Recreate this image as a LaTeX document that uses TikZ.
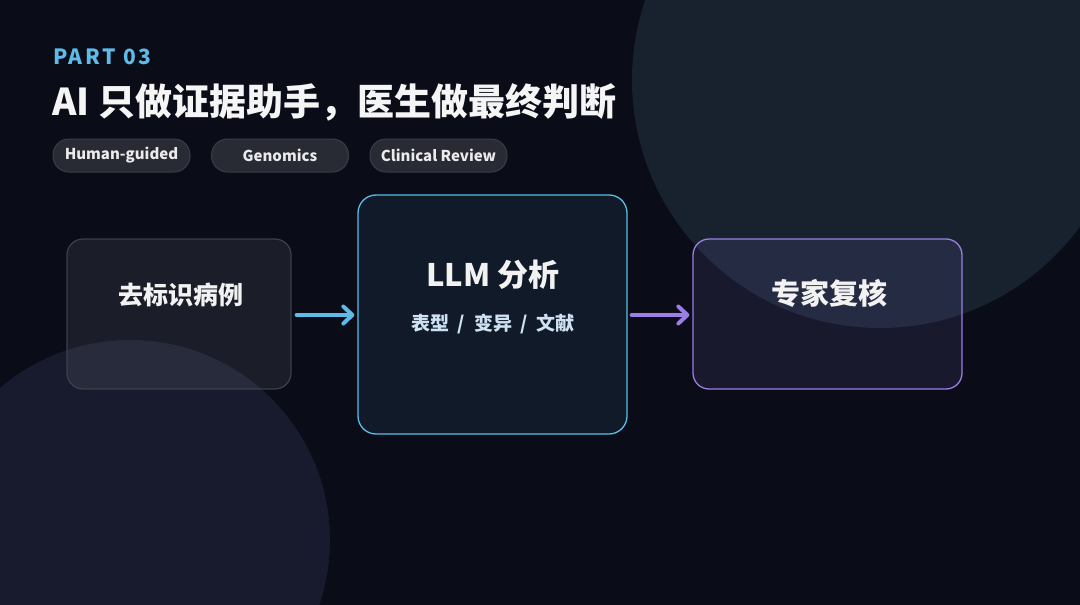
\documentclass[tikz,border=0pt]{standalone}
\usepackage{fontspec}
\setmainfont{Noto Sans CJK SC}
\usetikzlibrary{arrows.meta}

\definecolor{bgdark}{HTML}{0A0D18}
\definecolor{orbteal}{HTML}{17222E}
\definecolor{orbnavy}{HTML}{181B2D}
\definecolor{skyblue}{HTML}{5EBBE8}
\definecolor{lavender}{HTML}{9B7DE6}
\definecolor{pillfill}{HTML}{292B34}
\definecolor{pilledge}{HTML}{3A3C46}
\definecolor{greyedge}{HTML}{3C3F4C}
\definecolor{subtext}{HTML}{CFE2F4}

\begin{document}
\begin{tikzpicture}[x=1pt, y=-1pt]
        \tikzstyle{pill}=[draw=pilledge, fill=pillfill, line width=1pt,
            rounded corners=16pt, minimum width=137pt, minimum height=33pt,
            inner sep=0pt, text=white!92!black,
            font=\fontsize{15}{18}\selectfont\bfseries]
        \tikzstyle{plainbox}=[draw=greyedge, fill=white, fill opacity=0.07,
            line width=1.2pt, rounded corners=16pt, minimum width=224pt,
            minimum height=150pt, inner sep=0pt]
        \tikzstyle{llmbox}=[draw=skyblue, fill=skyblue, fill opacity=0.08,
            line width=1.3pt, rounded corners=18pt, minimum width=269pt,
            minimum height=239pt, inner sep=0pt]
        \tikzstyle{reviewbox}=[draw=lavender, fill=lavender, fill opacity=0.11,
            line width=1.3pt, rounded corners=16pt, minimum width=269pt,
            minimum height=150pt, inner sep=0pt]
        \tikzstyle{boxtext}=[inner sep=0pt, text=white!95!black]
        \tikzstyle{flow}=[line width=4pt, line cap=round,
            -{Straight Barb[round, length=9pt, width=17pt]}]

        \useasboundingbox (0, 0) rectangle (1080, 605);
        \fill[bgdark] (0, 0) rectangle (1080, 605);
        \fill[orbteal] (880, 80) circle[radius=248pt];
        \fill[orbnavy] (130, 540) circle[radius=200pt];

        \node[inner sep=0pt, anchor=west, text=skyblue,
            font=\fontsize{21}{24}\selectfont\bfseries\addfontfeature{LetterSpace=12}]
            (part) at (53, 57) {PART 03};
        \node[inner sep=0pt, anchor=west, text=white!96!black,
            font=\fontsize{37}{42}\selectfont\bfseries]
            (title) at (52, 102) {AI 只做证据助手，医生做最终判断};

        \node[pill] (human) at (121.5, 155.5) {Human-guided};
        \node[pill] (genomics) at (280, 155.5) {Genomics};
        \node[pill] (clinical) at (438.5, 155.5) {Clinical Review};

        \node[plainbox] (deid) at (179, 314) {};
        \node[llmbox] (llm) at (492.5, 314.5) {};
        \node[reviewbox] (review) at (827.5, 314) {};

        \node[boxtext, font=\fontsize{25}{28}\selectfont\bfseries]
            (deidtext) at (181, 295) {去标识病例};
        \node[boxtext, font=\fontsize{31}{34}\selectfont\bfseries]
            (llmtext) at (493, 275) {LLM 分析};
        \node[boxtext, text=subtext, font=\fontsize{19}{22}\selectfont\bfseries]
            (llmsub) at (493, 324) {表型\ \ /\ \ 变异\ \ /\ \ 文献};
        \node[boxtext, font=\fontsize{29}{32}\selectfont\bfseries]
            (reviewtext) at (829, 293) {专家复核};

        \draw[flow, draw=skyblue, shorten <=5pt, shorten >=3pt]
            (deid.east |- 0, 315) to (llm.west |- 0, 315);
        \draw[flow, draw=lavender, shorten <=4pt, shorten >=3pt]
            (llm.east |- 0, 315) to (review.west |- 0, 315);

    \end{tikzpicture}
\end{document}
